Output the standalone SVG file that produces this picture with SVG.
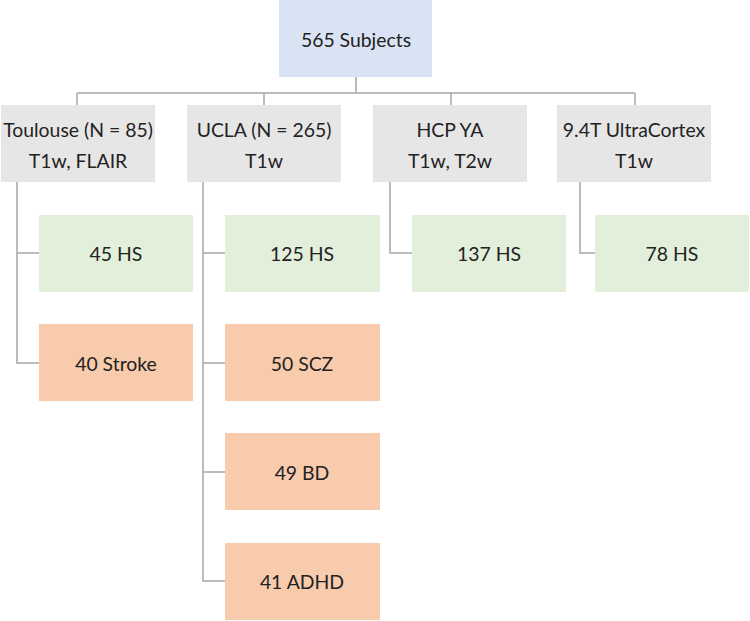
<svg xmlns="http://www.w3.org/2000/svg" width="750" height="621" viewBox="0 0 750 621">
<style>
text{font-family:Lato,"Liberation Sans",sans-serif;font-size:19.4px;fill:#222;text-anchor:middle;dominant-baseline:central}
.blue{fill:#dae3f3}.gray{fill:#e7e6e6}.green{fill:#e2efda}.orange{fill:#f8cbad}
.c{fill:none;stroke:#a6a6a6;stroke-width:1.5}
</style>
<rect width="750" height="621" fill="#fff"/>
<g id="connectors">
<path class="c" d="M356 77V93M77 93H635M77 93V105M264 93V105M451 93V105M635 93V105"/>
<path class="c" d="M17 182V363H39M17 253H39"/>
<path class="c" d="M203 182V581H225M203 253H225M203 363H225M203 472H225"/>
<path class="c" d="M390 182V253H412"/>
<path class="c" d="M580 182V253H595"/>
</g>
<g id="n0"><rect class="blue" x="279" y="0" width="153" height="77"/><text x="356" y="39">565 Subjects</text></g>
<g id="n1"><rect class="gray" x="1" y="105" width="154" height="77"/><text x="78" y="129">Toulouse (N = 85)</text><text x="78" y="160">T1w, FLAIR</text></g>
<g id="n2"><rect class="gray" x="187" y="105" width="154" height="77"/><text x="264" y="129">UCLA (N = 265)</text><text x="264" y="160">T1w</text></g>
<g id="n3"><rect class="gray" x="373" y="105" width="154" height="77"/><text x="450" y="129">HCP YA</text><text x="450" y="160">T1w, T2w</text></g>
<g id="n4"><rect class="gray" x="557" y="105" width="154" height="77"/><text x="634" y="129">9.4T UltraCortex</text><text x="634" y="160">T1w</text></g>
<g id="n5"><rect class="green" x="39" y="215" width="154" height="77"/><text x="116" y="253">45 HS</text></g>
<g id="n6"><rect class="orange" x="39" y="324" width="154" height="77"/><text x="116" y="363">40 Stroke</text></g>
<g id="n7"><rect class="green" x="225" y="215" width="155" height="77"/><text x="302" y="253">125 HS</text></g>
<g id="n8"><rect class="orange" x="225" y="324" width="155" height="77"/><text x="302" y="363">50 SCZ</text></g>
<g id="n9"><rect class="orange" x="225" y="433" width="155" height="77"/><text x="302" y="472">49 BD</text></g>
<g id="n10"><rect class="orange" x="225" y="543" width="155" height="77"/><text x="302" y="581">41 ADHD</text></g>
<g id="n11"><rect class="green" x="412" y="215" width="154" height="77"/><text x="489" y="253">137 HS</text></g>
<g id="n12"><rect class="green" x="595" y="215" width="154" height="77"/><text x="672" y="253">78 HS</text></g>
</svg>
